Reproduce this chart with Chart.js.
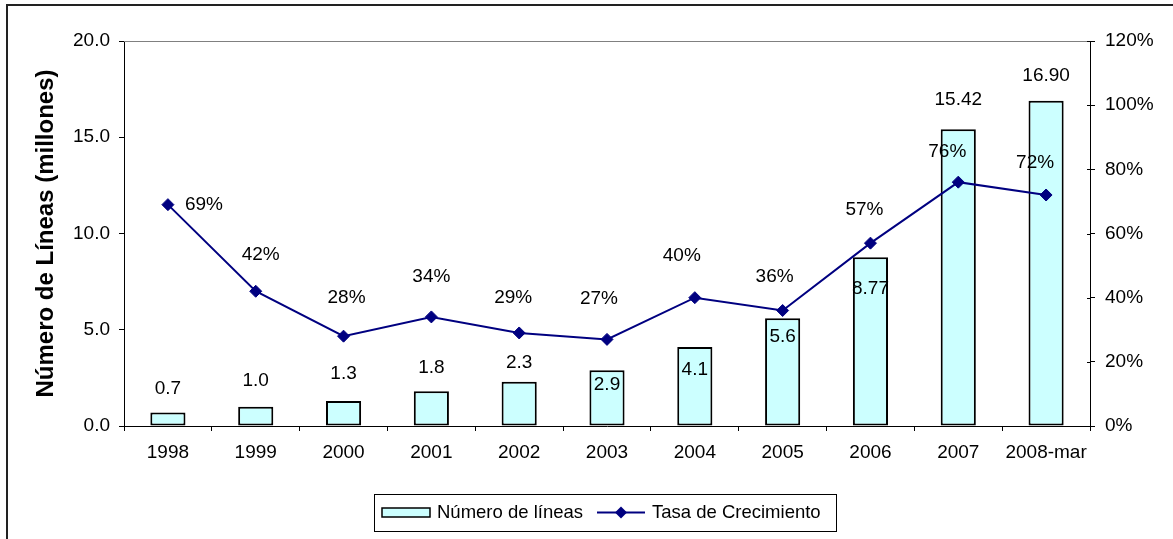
<!DOCTYPE html>
<html>
<head>
<meta charset="utf-8">
<script src="https://cdn.jsdelivr.net/npm/chart.js@4.4.0/dist/chart.umd.min.js"></script>
<style>
  html, body { margin: 0; padding: 0; background: #fff; }
  #wrap { position: relative; width: 1173px; height: 539px; }
</style>
</head>
<body>
<div id="wrap"><canvas id="grafic"></canvas></div>
<script>
// Dades llegides del gràfic
const anys = ['1998', '1999', '2000', '2001', '2002', '2003', '2004', '2005', '2006', '2007', '2008-mar'];
const lineas = [0.7, 1.0, 1.3, 1.8, 2.3, 2.9, 4.1, 5.6, 8.77, 15.42, 16.90];
const etiquetesLineas = ['0.7', '1.0', '1.3', '1.8', '2.3', '2.9', '4.1', '5.6', '8.77', '15.42', '16.90'];
const creixement = [0.69, 0.42, 0.28, 0.34, 0.29, 0.27, 0.40, 0.36, 0.57, 0.76, 0.72];
const nomsSeries = ['Número de líneas', 'Tasa de Crecimiento'];
const titolEix = 'Número de Líneas (millones)';

const FONT = '"Liberation Sans", Arial, sans-serif';
const BLAU = '#000080';
const CIAN = '#CCFFFF';

// posició de les etiquetes (com a l'original, col·locades a mà)
const despBarres = [24, 26, 27, 24, 19, -15, -23, -19, -32, 29, 25];
const despPct = [[36, 0], [5, -36], [3, -38], [0, -40], [-6, -35], [-8, -41], [-13, -42], [-8, -34], [-6, -33], [-11, -30], [-11, -32]];

function diamant(ctx, x, y, r) {
  ctx.beginPath();
  ctx.moveTo(x, y - r);
  ctx.lineTo(x + r, y);
  ctx.lineTo(x, y + r);
  ctx.lineTo(x - r, y);
  ctx.closePath();
  ctx.fill();
}

const pluginExtres = {
  id: 'extres',
  beforeDatasetsDraw(chart) {
    const { ctx, chartArea: a } = chart;
    ctx.save();
    // vora superior de l'àrea de dibuix
    ctx.strokeStyle = '#808080';
    ctx.lineWidth = 1;
    ctx.beginPath();
    ctx.moveTo(a.left, a.top + 0.5);
    ctx.lineTo(a.right, a.top + 0.5);
    ctx.stroke();
    // marques interiors de l'eix dret
    const y2 = chart.scales.y2;
    ctx.strokeStyle = '#000';
    y2.ticks.forEach(t => {
      const yy = Math.round(y2.getPixelForValue(t.value)) + 0.5;
      ctx.beginPath();
      ctx.moveTo(a.right - 3, yy);
      ctx.lineTo(a.right, yy);
      ctx.stroke();
    });
    ctx.restore();
  },
  afterDatasetsDraw(chart) {
    const { ctx } = chart;
    ctx.save();
    ctx.fillStyle = '#000';
    ctx.font = '19px ' + FONT;
    ctx.textAlign = 'center';
    ctx.textBaseline = 'middle';

    const barres = chart.getDatasetMeta(0).data;
    barres.forEach((b, i) => {
      ctx.fillText(etiquetesLineas[i], b.x, b.y - despBarres[i]);
    });

    const punts = chart.getDatasetMeta(1).data;
    punts.forEach((p, i) => {
      const [dx, dy] = despPct[i];
      ctx.fillText(Math.round(creixement[i] * 100) + '%', p.x + dx, p.y + dy);
    });

    // marc exterior
    ctx.strokeStyle = '#222';
    ctx.lineWidth = 2;
    ctx.beginPath();
    ctx.moveTo(7, 539);
    ctx.lineTo(7, 5);
    ctx.lineTo(1173, 5);
    ctx.stroke();

    // llegenda
    ctx.lineWidth = 1;
    ctx.strokeStyle = '#000';
    ctx.strokeRect(374.5, 494.5, 462, 37);

    ctx.fillStyle = CIAN;
    ctx.fillRect(382, 508, 48, 9);
    ctx.strokeStyle = '#000';
    ctx.lineWidth = 1.5;
    ctx.strokeRect(382, 508, 48, 9);

    ctx.fillStyle = '#000';
    ctx.font = '18.5px ' + FONT;
    ctx.textAlign = 'left';
    ctx.fillText(nomsSeries[0], 437, 513);

    ctx.strokeStyle = BLAU;
    ctx.lineWidth = 2;
    ctx.beginPath();
    ctx.moveTo(597, 512.5);
    ctx.lineTo(645, 512.5);
    ctx.stroke();
    ctx.fillStyle = BLAU;
    diamant(ctx, 621, 512.5, 6);

    ctx.fillStyle = '#000';
    ctx.fillText(nomsSeries[1], 652, 513);
    ctx.restore();
  }
};

new Chart(document.getElementById('grafic'), {
  type: 'bar',
  data: {
    labels: anys,
    datasets: [
      {
        label: nomsSeries[0],
        data: lineas,
        backgroundColor: CIAN,
        borderColor: '#000',
        borderWidth: 2,
        borderSkipped: false,
        categoryPercentage: 1,
        barPercentage: 0.4,
        yAxisID: 'y',
        order: 2,
      },
      {
        label: nomsSeries[1],
        data: creixement,
        type: 'line',
        borderColor: BLAU,
        backgroundColor: BLAU,
        borderWidth: 2,
        pointStyle: 'rectRot',
        pointRadius: 6,
        pointBackgroundColor: BLAU,
        pointBorderColor: BLAU,
        pointBorderWidth: 1,
        tension: 0,
        yAxisID: 'y2',
        order: 1,
      }
    ]
  },
  options: {
    animation: false,
    responsive: true,
    maintainAspectRatio: false,
    layout: { padding: { top: 41, left: 0, right: 0, bottom: 0 } },
    plugins: {
      legend: { display: false },
      tooltip: { enabled: false },
    },
    scales: {
      x: {
        offset: true,
        grid: { offset: true, drawOnChartArea: false, drawTicks: true, tickLength: 5, color: '#000' },
        border: { display: true, color: '#000', width: 1 },
        ticks: { color: '#000', font: { size: 19, family: FONT }, padding: 10, maxRotation: 0, autoSkip: false },
        afterFit(s) { s.height = 113; },
      },
      y: {
        position: 'left',
        min: 0,
        max: 20,
        ticks: {
          stepSize: 5,
          color: '#000',
          font: { size: 19, family: FONT },
          padding: 9,
          callback: v => Number(v).toFixed(1),
        },
        grid: { drawOnChartArea: false, drawTicks: true, tickLength: 5, color: '#000' },
        border: { display: true, color: '#000', width: 1 },
        title: {
          display: true,
          text: titolEix,
          color: '#000',
          font: { size: 24, weight: 'bold', family: FONT },
          padding: { top: 32, bottom: 0 },
        },
        afterFit(s) { s.width = 124; },
      },
      y2: {
        position: 'right',
        min: 0,
        max: 1.2,
        ticks: {
          stepSize: 0.2,
          color: '#000',
          font: { size: 19, family: FONT },
          padding: 10,
          callback: v => Math.round(v * 100) + '%',
        },
        grid: { drawOnChartArea: false, drawTicks: true, tickLength: 5, color: '#000' },
        border: { display: true, color: '#000', width: 1 },
        afterFit(s) { s.width = 83; },
      }
    }
  },
  plugins: [pluginExtres]
});
</script>
</body>
</html>
